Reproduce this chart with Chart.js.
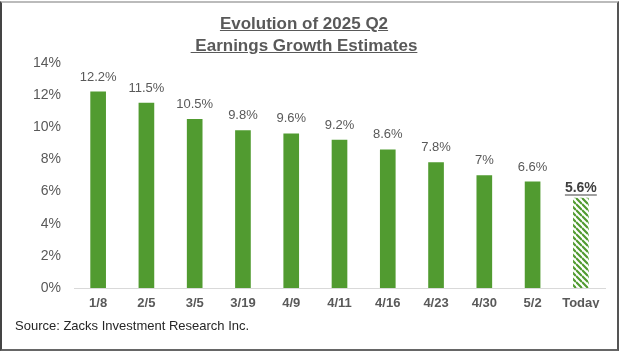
<!DOCTYPE html>
<html>
<head>
<meta charset="utf-8">
<script src="https://cdn.jsdelivr.net/npm/chart.js@4"></script>
<style>
    html, body { margin: 0; padding: 0; background: #fff; }
    #wrap { position: relative; width: 620px; height: 352px; overflow: hidden; font-family: 'Liberation Sans', Arial, sans-serif; }
    #frame {
        position: absolute; left: 0; top: 1px; width: 619px; height: 350px; box-sizing: border-box;
        border-left: 2px solid #444; border-right: 2px solid #555;
        border-bottom: 2px solid #666; border-top: 2px solid #bbb;
    }
    #title {
        position: absolute; left: 0; top: 13px; width: 608px; text-align: center;
        font-weight: bold; font-size: 17px; line-height: 22px; color: #595959;
        text-decoration: underline; white-space: pre;
    }
    #source {
        position: absolute; left: 15px; top: 318px; font-size: 13px; color: #262626;
    }
    canvas { position: absolute; left: 0; top: 0; }
</style>
</head>
<body>
<div id="wrap">
    <canvas id="growthChart" width="620" height="352"></canvas>
    <div id="frame"></div>
    <div id="title">Evolution of 2025 Q2
 Earnings Growth Estimates</div>
    <div id="source">Source: Zacks Investment Research Inc.</div>
</div>
<script>
    // data
    const categories = ['1/8', '2/5', '3/5', '3/19', '4/9', '4/11', '4/16', '4/23', '4/30', '5/2', 'Today'];
    const growth = [12.2, 11.5, 10.5, 9.8, 9.6, 9.2, 8.6, 7.8, 7, 6.6, 5.6];
    const yMax = 14;
    const yStep = 2;

    const GREEN = '#519B30';
    const GRAY = '#595959';

    Chart.defaults.font.family = "'Liberation Sans', Arial, sans-serif";

    // hatched fill for the current estimate
    function makeHatch() {
        const s = 6;
        const c = document.createElement('canvas');
        c.width = s; c.height = s;
        const g = c.getContext('2d');
        g.strokeStyle = GREEN;
        g.lineWidth = 2.2;
        g.beginPath();
        [-s, 0, s].forEach(off => {
            g.moveTo(0, off);
            g.lineTo(s, s + off);
        });
        g.stroke();
        return g.createPattern(c, 'repeat');
    }

    const ctx = document.getElementById('growthChart').getContext('2d');
    const hatch = makeHatch();
    const lastIdx = growth.length - 1;

    const valueLabels = {
        id: 'valueLabels',
        afterDatasetsDraw(chart) {
            const c = chart.ctx;
            const bars = chart.getDatasetMeta(0).data;
            c.save();
            c.textAlign = 'center';
            c.textBaseline = 'middle';
            bars.forEach((bar, i) => {
                const txt = growth[i] + '%';
                if (i === lastIdx) {
                    c.font = "bold 14px 'Liberation Sans', Arial, sans-serif";
                    c.fillStyle = '#404040';
                    const y = bar.y - 10;
                    c.fillText(txt, bar.x, y);
                    const w = c.measureText(txt).width;
                    c.strokeStyle = '#404040';
                    c.lineWidth = 1.2;
                    c.beginPath();
                    c.moveTo(bar.x - w / 2, y + 7);
                    c.lineTo(bar.x + w / 2, y + 7);
                    c.stroke();
                } else {
                    c.font = "13px 'Liberation Sans', Arial, sans-serif";
                    c.fillStyle = GRAY;
                    c.fillText(txt, bar.x, bar.y - 15);
                }
            });
            c.restore();
        }
    };

    new Chart(ctx, {
        type: 'bar',
        data: {
            labels: categories,
            datasets: [{
                data: growth,
                backgroundColor: growth.map((v, i) => i === lastIdx ? hatch : GREEN),
                barThickness: 15,
                borderWidth: 0
            }]
        },
        options: {
            responsive: false,
            devicePixelRatio: 1,
            animation: false,
            layout: { padding: { left: 0, right: 15, top: 63, bottom: 44 } },
            plugins: {
                legend: { display: false },
                tooltip: { enabled: false }
            },
            scales: {
                y: {
                    min: 0,
                    max: yMax,
                    afterFit: s => { s.width = 74; },
                    grid: { display: false, drawTicks: false },
                    border: { display: false },
                    ticks: {
                        stepSize: yStep,
                        padding: 13,
                        color: GRAY,
                        font: { size: 14 },
                        callback: v => v + '%'
                    }
                },
                x: {
                    afterFit: s => { s.height = 20; },
                    grid: { display: false, drawTicks: false },
                    border: { display: true, color: '#D9D9D9', width: 1 },
                    ticks: {
                        padding: 8,
                        color: GRAY,
                        font: { size: 13, weight: 'bold' }
                    }
                }
            }
        },
        plugins: [valueLabels]
    });
</script>
</body>
</html>
